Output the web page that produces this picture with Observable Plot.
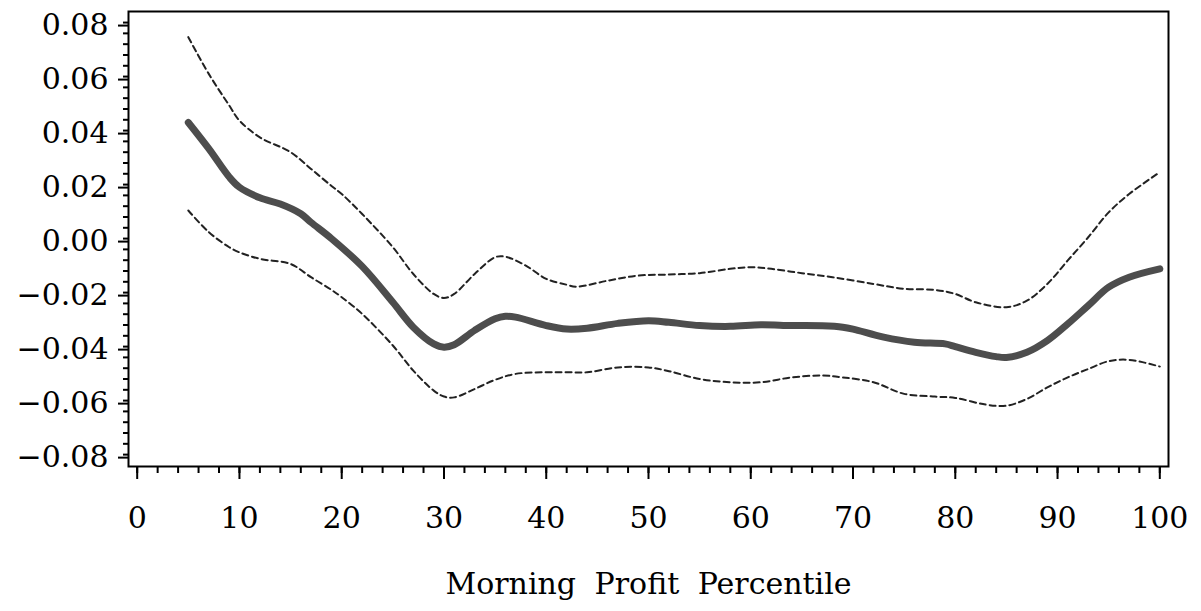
<!DOCTYPE html>
<html>
<head>
<meta charset="utf-8">
<script src="https://cdn.jsdelivr.net/npm/d3@7"></script>
<script src="https://cdn.jsdelivr.net/npm/@observablehq/plot@0.6"></script>
<style>
  html, body { margin: 0; padding: 0; background: #fff; }
</style>
</head>
<body>
<div id="chart"></div>
<script>
// Smoothed estimate (solid) and confidence band (dashed)
const midX = [5,7,9,10,12,14,16,17,19,22,25,27,29,30,31,33,35,36,37,40,42,44,47,50,52,55,58,61,64,67,69,70,73,76,79,80,82,84,85,87,89,91,93,95,97,100];
const midY = [0.043,0.0333,0.0228,0.019,0.0151,0.0128,0.0092,0.006,0.0,-0.0103,-0.0236,-0.0328,-0.039,-0.0402,-0.0393,-0.034,-0.0297,-0.0288,-0.0291,-0.0322,-0.0335,-0.0332,-0.0314,-0.0304,-0.031,-0.0322,-0.0325,-0.0319,-0.0322,-0.0323,-0.0328,-0.0335,-0.0365,-0.0384,-0.039,-0.040,-0.0421,-0.0437,-0.044,-0.0421,-0.0378,-0.0316,-0.0248,-0.018,-0.0143,-0.0112];

const upX = [5,7,9,10,12,15,17,19,20,22,25,27,29,30,31,33,35,36,38,40,42,43,46,49,52,55,58,60,62,65,68,72,75,78,80,82,85,87,89,91,93,95,97,100];
const upY = [0.0746,0.061,0.0493,0.0437,0.0375,0.032,0.0258,0.0195,0.0165,0.0091,-0.0032,-0.0131,-0.0205,-0.022,-0.0205,-0.0131,-0.0069,-0.0067,-0.01,-0.0149,-0.0171,-0.0178,-0.0156,-0.0137,-0.0133,-0.0128,-0.0112,-0.0106,-0.0112,-0.0128,-0.0143,-0.0168,-0.0186,-0.019,-0.0205,-0.0236,-0.0254,-0.023,-0.0168,-0.0081,0.0005,0.0097,0.0165,0.0246];

const loX = [5,7,9,10,12,15,17,19,20,22,25,27,29,30,31,33,35,37,40,42,44,47,50,52,55,58,61,64,67,69,72,75,78,80,83,85,87,89,91,93,95,97,100];
const loY = [0.0104,0.0024,-0.0032,-0.0051,-0.0075,-0.0094,-0.0143,-0.019,-0.0217,-0.0279,-0.0396,-0.0489,-0.0563,-0.0585,-0.0588,-0.0557,-0.0523,-0.0501,-0.0495,-0.0495,-0.0495,-0.0477,-0.0477,-0.0491,-0.052,-0.0532,-0.0532,-0.0514,-0.0507,-0.0514,-0.0532,-0.0575,-0.0585,-0.059,-0.0615,-0.0619,-0.0594,-0.0551,-0.0514,-0.0483,-0.0454,-0.0449,-0.0474];

const xMajor = [0,10,20,30,40,50,60,70,80,90,100];
const xMinor = d3.range(0, 101, 2);
const yMajor = [-0.08,-0.06,-0.04,-0.02,0,0.02,0.04,0.06,0.08];
const yMinor = d3.range(-80, 81, 4).map(d => d / 1000);
const xTitle = "Morning Profit Percentile";

const mid = midX.map((x, i) => ({x, y: midY[i]}));
const up = upX.map((x, i) => ({x, y: upY[i]}));
const lo = loX.map((x, i) => ({x, y: loY[i]}));

const chart = Plot.plot({
  width: 1201,
  height: 611,
  marginLeft: 128,
  marginRight: 33,
  marginTop: 11,
  marginBottom: 145,
  style: {fontFamily: "'DejaVu Serif', serif", fontSize: "30px", color: "#000", background: "#fff", wordSpacing: "9px"},
  x: {domain: [-0.85, 100.85]},
  y: {domain: [-0.0844, 0.0841]},
  marks: [
    Plot.axisY({ticks: yMinor, tickSize: 5, text: null, strokeWidth: 2, label: null}),
    Plot.axisY({ticks: yMajor, tickSize: 10, tickPadding: 10, tickFormat: d3.format(".2f"), strokeWidth: 2, dy: 3, label: null}),
    Plot.axisX({ticks: xMinor, tickSize: 7, text: null, strokeWidth: 2, label: null}),
    Plot.axisX({ticks: xMajor, tickSize: 13, tickPadding: 27, strokeWidth: 2,
      label: xTitle, labelAnchor: "center", labelArrow: "none", labelOffset: 127}),
    Plot.line(up, {x: "x", y: "y", stroke: "#222", strokeWidth: 2, strokeDasharray: "6,4", curve: "catmull-rom"}),
    Plot.line(lo, {x: "x", y: "y", stroke: "#222", strokeWidth: 2, strokeDasharray: "6,4", curve: "catmull-rom"}),
    Plot.line(mid, {x: "x", y: "y", stroke: "#4d4d4d", strokeWidth: 7, curve: "catmull-rom", strokeLinecap: "round"}),
    Plot.frame({stroke: "#000", strokeWidth: 2})
  ]
});
document.getElementById("chart").append(chart);
</script>
</body>
</html>
